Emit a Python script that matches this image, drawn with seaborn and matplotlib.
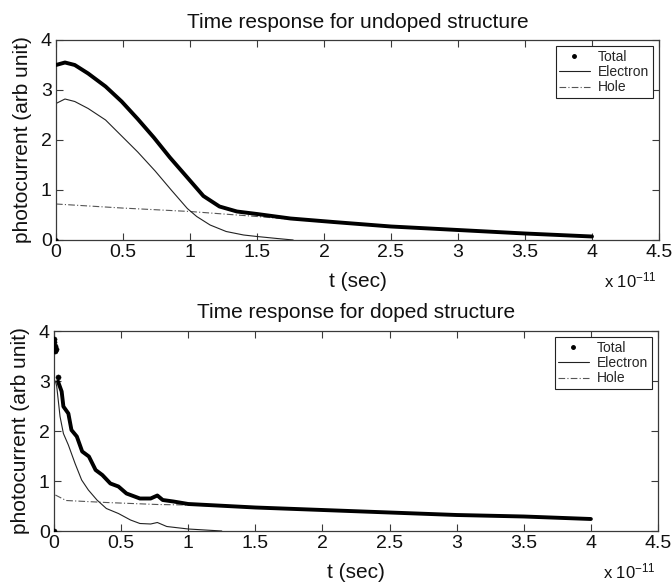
import numpy as np
import pandas as pd
import matplotlib
matplotlib.use("Agg")
import matplotlib.pyplot as plt
import seaborn as sns
from matplotlib.lines import Line2D

# ---------------- data (t in units of 1e-11 s) ----------------
# undoped structure
und_total_t = [0.0, 0.0, 0.067, 0.14, 0.24, 0.37, 0.49, 0.61, 0.73, 0.85, 0.98, 1.1, 1.22, 1.35, 1.5, 1.75, 2.07, 2.5, 3.0, 3.5, 4.0]
und_total_v = [0.0, 3.5, 3.55, 3.5, 3.33, 3.07, 2.77, 2.42, 2.05, 1.65, 1.25, 0.88, 0.67, 0.57, 0.52, 0.43, 0.36, 0.27, 0.2, 0.13, 0.07]
und_elec_t = [0.0, 0.0, 0.067, 0.14, 0.24, 0.37, 0.49, 0.61, 0.74, 0.86, 0.98, 1.05, 1.15, 1.27, 1.4, 1.5, 1.65, 1.77]
und_elec_v = [0.0, 2.73, 2.82, 2.77, 2.63, 2.4, 2.08, 1.76, 1.38, 1.0, 0.63, 0.47, 0.3, 0.17, 0.1, 0.07, 0.03, 0.0]
und_hole_t = [0.0, 0.49, 1.0, 1.5, 2.0, 2.5, 3.0, 3.5, 4.0]
und_hole_v = [0.72, 0.64, 0.57, 0.47, 0.36, 0.27, 0.2, 0.13, 0.07]

# doped structure
dop_spike_t = [0.0, 0.0, 0.003, 0.006, 0.008, 0.01, 0.012, 0.03]
dop_spike_v = [0.0, 3.85, 3.78, 3.7, 3.63, 3.6, 3.65, 3.08]
dop_total_t = [0.03, 0.057, 0.07, 0.107, 0.13, 0.17, 0.21, 0.26, 0.31, 0.36, 0.42, 0.48, 0.54, 0.64, 0.72, 0.77, 0.81, 0.89, 1.0, 1.5, 2.0, 2.5, 3.0, 3.5, 4.0]
dop_total_v = [2.99, 2.79, 2.49, 2.35, 2.02, 1.89, 1.59, 1.49, 1.22, 1.12, 0.95, 0.89, 0.75, 0.65, 0.65, 0.71, 0.62, 0.59, 0.54, 0.47, 0.42, 0.37, 0.32, 0.29, 0.24]
dop_elec_t = [0.01, 0.02, 0.045, 0.07, 0.107, 0.157, 0.206, 0.256, 0.32, 0.39, 0.48, 0.57, 0.64, 0.72, 0.77, 0.84, 1.0, 1.25]
dop_elec_v = [3.0, 2.9, 2.29, 1.95, 1.72, 1.35, 1.02, 0.82, 0.62, 0.45, 0.35, 0.22, 0.15, 0.14, 0.17, 0.09, 0.04, 0.0]
dop_hole_t = [0.01, 0.09, 0.39, 0.77, 1.0, 1.5, 2.0, 2.5, 3.0, 3.5, 4.0]
dop_hole_v = [0.72, 0.61, 0.57, 0.53, 0.52, 0.47, 0.42, 0.37, 0.32, 0.29, 0.24]

titles = ["Time response for undoped structure", "Time response for doped structure"]
series_names = ["Total", "Electron", "Hole"]
x_ticks = [0, 0.5, 1, 1.5, 2, 2.5, 3, 3.5, 4, 4.5]
x_tick_labels = ["0", "0.5", "1", "1.5", "2", "2.5", "3", "3.5", "4", "4.5"]
y_ticks = [0, 1, 2, 3, 4]
y_tick_labels = ["0", "1", "2", "3", "4"]
xlabel = "t (sec)"
ylabel = "photocurrent (arb unit)"

# ---------------- style ----------------
sns.set_theme(style="white")
plt.rcParams["font.family"] = ["Liberation Sans", "DejaVu Sans"]
plt.rcParams["mathtext.default"] = "regular"

fig = plt.figure(figsize=(6.72, 5.85), dpi=100)
fig.patch.set_facecolor("white")

W, H = 672.0, 585.0
ax1 = fig.add_axes([56 / W, 1 - 240 / H, (659 - 56) / W, 200 / H])
ax2 = fig.add_axes([54 / W, 1 - 531 / H, (658 - 54) / W, 200 / H])

spine_col = "#3a3a3a"


def draw(ax, tot_t, tot_v, el_t, el_v, ho_t, ho_v, title, spike=None, first_dot=True):
    if first_dot:
        sns.scatterplot(x=tot_t[:1], y=tot_v[:1], ax=ax, color="black", s=8,
                        marker="o", edgecolor=None, zorder=5, legend=False)
        tt, tv = tot_t[1:], tot_v[1:]
    else:
        tt, tv = tot_t, tot_v
    sns.lineplot(x=ho_t, y=ho_v, ax=ax, color="#555555", lw=0.8,
                 linestyle=(0, (6, 2, 1, 2)), sort=False, estimator=None, legend=False)
    sns.lineplot(x=el_t, y=el_v, ax=ax, color="#222222", lw=0.8,
                 sort=False, estimator=None, legend=False)
    sns.lineplot(x=tt, y=tv, ax=ax, color="black", lw=2.8,
                 sort=False, estimator=None, legend=False, zorder=4)
    if spike is not None:
        st, sv = spike
        sns.scatterplot(x=st, y=sv, ax=ax, color="black", s=14,
                        marker="o", edgecolor=None, zorder=5, legend=False)

    ax.set_xlim(0, 4.5)
    ax.set_ylim(0, 4)
    ax.set_xticks(x_ticks)
    ax.set_xticklabels(x_tick_labels)
    ax.set_yticks(y_ticks)
    ax.set_yticklabels(y_tick_labels)
    ax.tick_params(direction="in", length=5, width=0.8, color=spine_col,
                   top=True, right=True, bottom=True, left=True,
                   labelsize=14, pad=3, labelcolor="#111111")
    for sp in ax.spines.values():
        sp.set_visible(True)
        sp.set_color(spine_col)
        sp.set_linewidth(0.9)
    ax.set_title(title, fontsize=15, pad=9, color="#111111")
    ax.set_xlabel(xlabel, fontsize=15, labelpad=8, color="#111111")
    ax.set_ylabel(ylabel, fontsize=15, labelpad=6, color="#111111")
    ax.text(0.997, -0.235, "x 10$^{-11}$", transform=ax.transAxes,
            ha="right", va="baseline", fontsize=12, color="#111111")

    handles = [
        Line2D([], [], color="black", marker="o", markersize=2.5, linestyle="none"),
        Line2D([], [], color="#222222", lw=0.8),
        Line2D([], [], color="#555555", lw=0.8, linestyle=(0, (6, 2, 1, 2))),
    ]
    leg = ax.legend(handles, series_names, loc="upper right", fontsize=10,
                    frameon=True, fancybox=False, framealpha=1, edgecolor="#222222",
                    borderpad=0.25, labelspacing=0.1, handlelength=2.2,
                    handletextpad=0.6, borderaxespad=0.45)
    leg.get_frame().set_linewidth(0.8)


draw(ax1, und_total_t, und_total_v, und_elec_t, und_elec_v,
     und_hole_t, und_hole_v, titles[0])
draw(ax2, dop_total_t, dop_total_v, dop_elec_t, dop_elec_v,
     dop_hole_t, dop_hole_v, titles[1], spike=(dop_spike_t, dop_spike_v), first_dot=False)

fig.savefig("out.png", dpi=100, facecolor="white")
